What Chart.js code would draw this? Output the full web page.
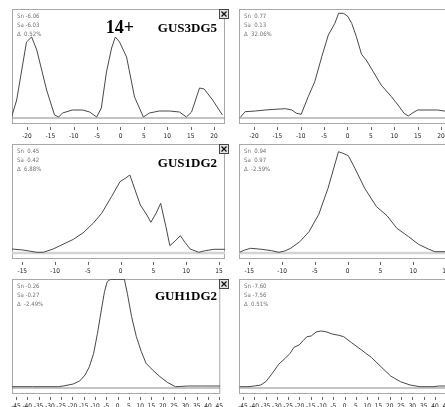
<!DOCTYPE html>
<html>
<head>
<meta charset="utf-8">
<script src="https://cdn.jsdelivr.net/npm/chart.js@4.4.0/dist/chart.umd.min.js"></script>
<style>
  html, body { margin: 0; padding: 0; background: #fff; overflow: hidden; }
  body { position: relative; width: 445px; height: 407px; }
  canvas { position: absolute; }
</style>
</head>
<body>
<canvas id="p1" width="232" height="140" style="left:0;top:0"></canvas>
<canvas id="p2" width="232" height="140" style="left:227px;top:0"></canvas>
<canvas id="p3" width="232" height="140" style="left:0;top:135px"></canvas>
<canvas id="p4" width="232" height="140" style="left:227px;top:135px"></canvas>
<canvas id="p5" width="232" height="137" style="left:0;top:270px"></canvas>
<canvas id="p6" width="232" height="137" style="left:227px;top:270px"></canvas>
<script>
// tick labels per row
const TICKS_ROW1 = [-20, -15, -10, -5, 0, 5, 10, 15, 20];
const TICKS_ROW2 = [-15, -10, -5, 0, 5, 10, 15];
const TICKS_ROW3 = [-45, -40, -35, -30, -25, -20, -15, -10, -5, 0, 5, 10, 15, 20, 25, 30, 35, 40, 45];

// profiles (y in arbitrary units, baseline = 0)
const X1 = [-23.3, -22.2, -20.1, -19.0, -17.9, -15.8, -14.1, -13.2, -12.4, -10.3, -8.1, -6.6, -5.1, -4.1, -3.0, -1.9, -1.1, -0.2, 1.3, 3.0, 4.9, 6.2, 8.3, 10.5, 12.6, 14.1, 15.2, 16.9, 17.9, 19.7, 21.8];
const Y1 = [1, 18, 76, 81, 68, 28, 3, 1, 5, 8, 8, 6, 1, 10, 46, 70, 81, 76, 61, 21, 1, 5, 7, 7, 6, 1, 6, 30, 29, 18, 3];

const X2 = [-22.9, -21.9, -19.7, -17.6, -15.5, -13.3, -11.9, -10.9, -9.9, -8.4, -7.0, -5.5, -4.1, -2.7, -1.9, -0.9, 0, 0.9, 1.9, 3.0, 4.0, 5.5, 7.2, 9.4, 10.8, 12.1, 13.0, 14.0, 15.0, 17.2, 19.3, 20.7, 22.3];
const Y2 = [0.7, 6.3, 7, 8, 8.7, 9.3, 8, 4.7, 3.7, 21.3, 36.3, 61.3, 83, 94.7, 104.7, 104.7, 102, 94.7, 81.3, 63.7, 58, 46.3, 33, 21.3, 13, 4.7, 2, 5.3, 8, 8, 8, 7, 7];

const X3 = [-16.6, -14.9, -12.8, -11.8, -10.3, -8.8, -7.2, -5.7, -4.2, -2.9, -1.4, -0.1, 0.7, 1.4, 2.2, 3.0, 4.0, 4.6, 5.4, 6.1, 6.9, 7.5, 8.3, 9.1, 9.8, 10.6, 11.9, 12.9, 14.2, 15.9];
const Y3 = [4, 3, 0.7, 0.7, 4, 8.7, 13.7, 20.3, 29.7, 39.7, 56.3, 71.3, 74.7, 78, 63, 48, 38, 30.7, 39.7, 49.7, 26.3, 7.3, 12, 17.3, 10.7, 4, 0.7, 2.3, 3.7, 3.7];

const X4 = [-16.5, -15.7, -14.8, -13.1, -11.6, -10.5, -9.6, -8.7, -7.3, -5.9, -4.4, -3.0, -2.2, -1.4, -0.7, 0.1, 1.1, 2.6, 4.4, 6.0, 7.5, 9.3, 10.8, 12.3, 13.3, 14.9, 15.9];
const Y4 = [0.7, 3, 4.7, 3.7, 2.3, 0.7, 2, 4.7, 11.3, 21.3, 38.7, 64.7, 83, 101.3, 99.7, 97.3, 84.7, 64.7, 46.3, 37.3, 24.7, 16.3, 8.7, 4, 1.3, 1.3, 1.3];

const X5 = [-46.7, -37.7, -26.2, -23.3, -19.7, -16.8, -14.4, -12.5, -10.6, -8.9, -7.2, -5.8, -4.6, -3.2, -0.3, 3.0, 4.3, 6.2, 8.3, 10.5, 12.6, 15.5, 18.4, 22.0, 25.6, 31.3, 37.1, 43.5, 45.4];
const Y5 = [1.3, 1.3, 1.3, 2.3, 4, 7, 13, 21.3, 34.7, 54.7, 78, 96.3, 106.3, 108.7, 108.7, 108.7, 94.7, 71.3, 51.3, 36.3, 24.7, 18, 12, 5.7, 1.3, 2, 2, 2, 2];

const X6 = [-46.4, -42.8, -40.0, -37.1, -34.9, -32.0, -29.2, -26.3, -24.1, -22.4, -20.1, -18.4, -16.7, -14.8, -12.6, -10.5, -8.3, -5.5, -2.6, -0.4, 3.1, 7.5, 11.8, 16.1, 20.4, 24.7, 29.0, 33.3, 39.1, 41.9, 45.4];
const Y6 = [1.3, 1.3, 2, 3, 6.3, 14.7, 23.7, 29.7, 34.7, 40.7, 43, 47.3, 51.3, 52, 56, 57, 56.3, 54, 52.7, 51.3, 45.3, 38, 30.7, 21.3, 12, 6.3, 3, 1.3, 1.3, 2, 2];

const INFO1 = ['Sn -6.06', 'Sa -6.03', 'Δ  0.52%'];
const INFO2 = ['Sn  0.77', 'Sa  0.13', 'Δ  32.06%'];
const INFO3 = ['Sn  0.45', 'Sa  0.42', 'Δ  6.88%'];
const INFO4 = ['Sn  0.94', 'Sa  0.97', 'Δ  -2.59%'];
const INFO5 = ['Sn -0.26', 'Sa -0.27', 'Δ  -2.49%'];
const INFO6 = ['Sn -7.60', 'Sa -7.56', 'Δ  0.51%'];

const TITLES = ['GUS3DG5', 'GUS1DG2', 'GUH1DG2'];
const CHARGE = '14+';

const SMALL = '"Liberation Sans Narrow", "DejaVu Sans Condensed", sans-serif';
const SERIF = '"Liberation Serif", "DejaVu Serif", serif';

// frame, tick marks, side texts, close box
const panelDecor = {
  id: 'panelDecor',
  beforeDatasetsDraw(chart, args, o) {
    const { ctx, chartArea: a } = chart;
    ctx.save();
    ctx.strokeStyle = '#a8a8a8';
    ctx.lineWidth = 1;
    ctx.strokeRect(a.left + 0.5, a.top + 0.5, a.right - a.left - 1, a.bottom - a.top);
    ctx.restore();
  },
  afterDraw(chart, args, o) {
    const { ctx, chartArea: a, scales: { x } } = chart;
    ctx.save();
    ctx.strokeStyle = '#666';
    ctx.lineWidth = 1;
    x.ticks.forEach(t => {
      const px = Math.round(x.getPixelForValue(t.value)) + 0.5;
      ctx.beginPath();
      ctx.moveTo(px, a.bottom + 4);
      ctx.lineTo(px, a.bottom + 7);
      ctx.stroke();
    });

    ctx.fillStyle = '#707070';
    ctx.font = '6px ' + SMALL;
    ctx.textBaseline = 'alphabetic';
    o.info.forEach((s, i) => ctx.fillText(s, a.left + 5, a.top + 8.5 + i * 9.3));

    if (o.title) {
      ctx.fillStyle = '#000';
      ctx.textAlign = 'right';
      ctx.font = 'bold 13px ' + SERIF;
      ctx.fillText(o.title, 217, o.titleY);
    }
    if (o.charge) {
      ctx.textAlign = 'center';
      ctx.font = 'bold 18px ' + SERIF;
      ctx.fillText(o.charge, 120, 33);
    }
    if (o.close) {
      ctx.fillStyle = '#e4e4e4';
      ctx.fillRect(219.5, 9.5, 9, 9);
      ctx.strokeStyle = '#444';
      ctx.strokeRect(219.5, 9.5, 9, 9);
      ctx.strokeStyle = '#111';
      ctx.lineWidth = 1.3;
      ctx.beginPath();
      ctx.moveTo(221.5, 11.5); ctx.lineTo(226.5, 16.5);
      ctx.moveTo(226.5, 11.5); ctx.lineTo(221.5, 16.5);
      ctx.stroke();
    }
    ctx.restore();
  },
};

function makePanel(id, xs, ys, ticks, xmin, xmax, deco, base) {
  const canvas = document.getElementById(id);
  const points = xs.map((v, i) => ({ x: v, y: ys[i] }));
  const axisH = canvas.height - 123;
  return new Chart(canvas, {
    type: 'line',
    data: {
      datasets: [
        {
          data: points,
          borderColor: '#484848',
          borderWidth: 1,
          pointRadius: 0,
          tension: 0,
        },
        {
          data: [{ x: xmin, y: 0 }, { x: xmax, y: 0 }],
          borderColor: base.color,
          borderWidth: base.width,
          pointRadius: 0,
        },
      ],
    },
    options: {
      responsive: false,
      animation: false,
      events: [],
      layout: { padding: { left: 12, right: 7, top: 9, bottom: 0 } },
      scales: {
        x: {
          type: 'linear',
          min: xmin,
          max: xmax,
          afterBuildTicks: s => { s.ticks = ticks.map(v => ({ value: v })); },
          afterFit: s => { s.height = axisH; },
          grid: { display: false, drawTicks: false },
          border: { display: false },
          ticks: {
            padding: 9,
            autoSkip: false,
            maxRotation: 0,
            color: '#222',
            font: { family: SMALL, size: 6.5 },
            callback: v => String(v),
          },
        },
        y: { display: false, min: -5, max: 109 },
      },
      plugins: {
        legend: { display: false },
        tooltip: { enabled: false },
        panelDecor: deco,
      },
    },
    plugins: [panelDecor],
  });
}

const thin = { color: '#8a8a8a', width: 1 };
const band = { color: '#d4d4d4', width: 2.5 };

makePanel('p1', X1, Y1, TICKS_ROW1, -23.2, 22.35, { info: INFO1, title: TITLES[0], titleY: 32, charge: CHARGE, close: true }, thin);
makePanel('p2', X2, Y2, TICKS_ROW1, -23.2, 22.35, { info: INFO2 }, thin);
makePanel('p3', X3, Y3, TICKS_ROW2, -16.57, 15.91, { info: INFO3, title: TITLES[1], titleY: 32, close: true }, band);
makePanel('p4', X4, Y4, TICKS_ROW2, -16.57, 15.91, { info: INFO4 }, band);
makePanel('p5', X5, Y5, TICKS_ROW3, -46.75, 45.45, { info: INFO5, title: TITLES[2], titleY: 30, close: true }, thin);
makePanel('p6', X6, Y6, TICKS_ROW3, -46.75, 45.45, { info: INFO6 }, thin);
</script>
</body>
</html>
